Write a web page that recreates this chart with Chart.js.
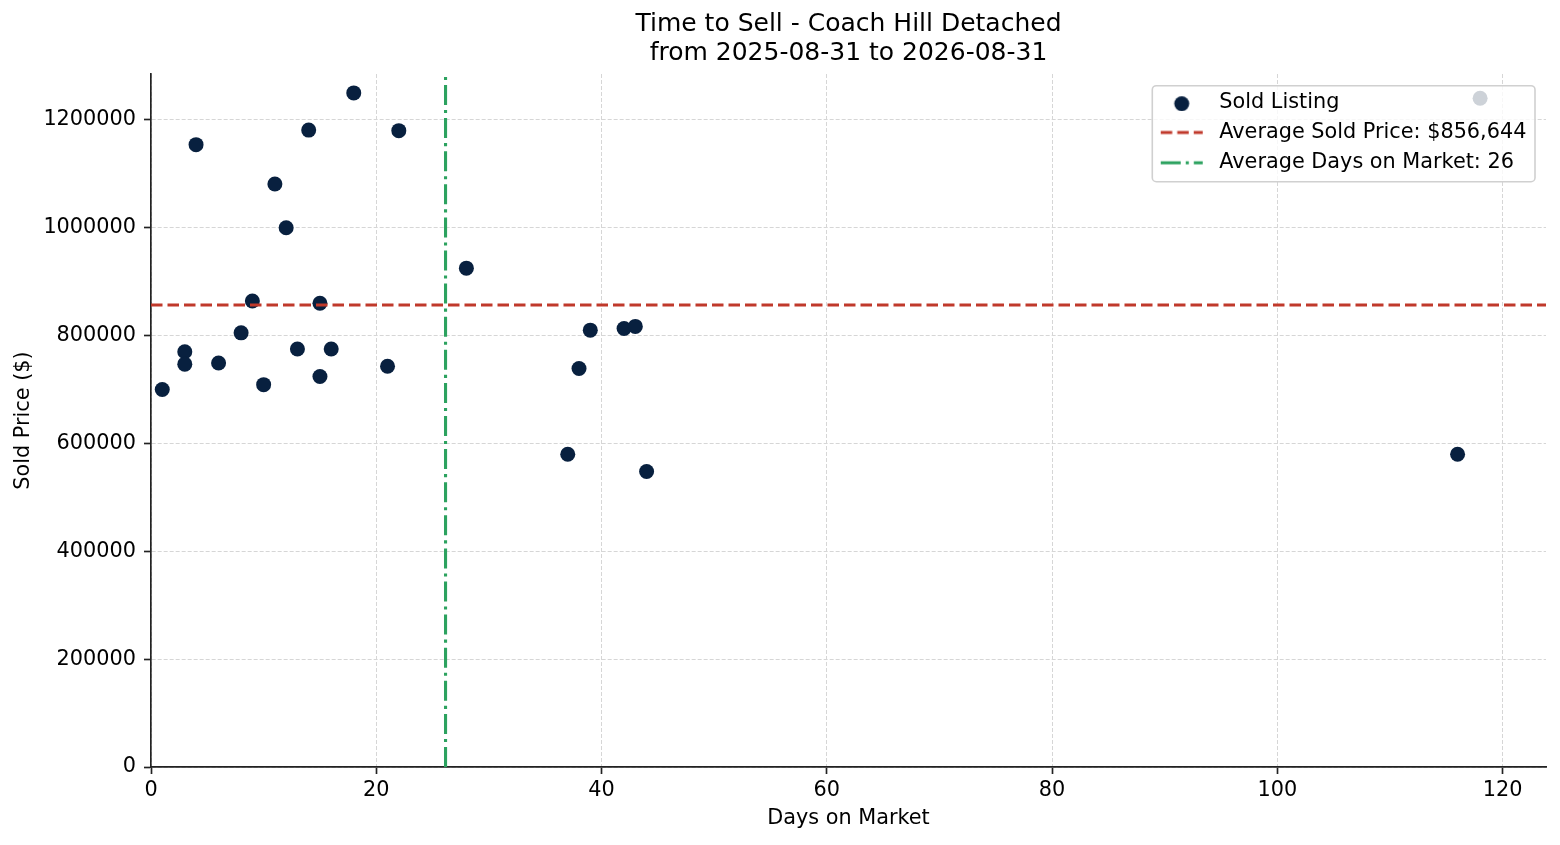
<!DOCTYPE html>
<html>
<head>
<meta charset="utf-8">
<script src="https://cdn.jsdelivr.net/npm/chart.js@4.4.1/dist/chart.umd.min.js"></script>
<style>
  html, body { margin: 0; padding: 0; background: #ffffff; }
  #wrap { width: 1560px; height: 845px; position: relative; }
  canvas { display: block; }
</style>
</head>
<body>
<div id="wrap"><canvas id="c" width="1560" height="845"></canvas></div>
<script>
// ---- data ----
const titleLines = ['Time to Sell - Coach Hill Detached', 'from 2025-08-31 to 2026-08-31'];
const xAxisTitle = 'Days on Market';
const yAxisTitle = 'Sold Price ($)';
const seriesLabels = ['Sold Listing', 'Average Sold Price: $856,644', 'Average Days on Market: 26'];
const daysOnMarket = [1, 3, 3, 4, 6, 8, 9, 10, 11, 12, 13, 14, 15, 15, 16, 18, 21, 22, 28, 37, 38, 39, 42, 43, 44, 116, 118];
const soldPrices = [700000, 770000, 747000, 1154000, 749000, 805000, 864000, 709000, 1081000, 1000000, 775000, 1181000, 860000, 724000, 775000, 1250000, 743000, 1180000, 925000, 580000, 739000, 810000, 813000, 817000, 548000, 580000, 1240000];
const avgPrice = 856644;
const avgDays = 26.15;
const xTicks = [0, 20, 40, 60, 80, 100, 120];
const yTicks = [0, 200000, 400000, 600000, 800000, 1000000, 1200000];
const xMin = 0, xMax = 123.85;
const yMin = 0, yMax = 1285000;

// ---- styles ----
const FONT = 'DejaVu Sans';
const NAVY = '#08203f';
const RED = '#c0392b';
const GREEN = '#2ca25f';
const LW = 3.1;
const RED_DASH = [11.5, 5];
const GREEN_DASH = [20, 5, 3.1, 5];

Chart.defaults.font.family = FONT;
Chart.defaults.font.size = 20.8;
Chart.defaults.color = '#000000';

function makeIcon(kind, color, dash) {
  const c = document.createElement('canvas');
  c.width = 44; c.height = 18;
  const g = c.getContext('2d');
  if (kind === 'circle') {
    g.fillStyle = color;
    g.beginPath(); g.arc(22, 10.5, 7.5, 0, Math.PI * 2); g.fill();
  } else {
    g.strokeStyle = color; g.lineWidth = LW; g.setLineDash(dash);
    g.beginPath(); g.moveTo(1, 9); g.lineTo(43, 9); g.stroke();
  }
  return c;
}
const legendIcons = [makeIcon('circle', NAVY), makeIcon('line', RED, RED_DASH), makeIcon('line', GREEN, GREEN_DASH)];

const scatterPoints = daysOnMarket.map((d, i) => ({ x: d, y: soldPrices[i] }));

const mplLegend = {
  id: 'mplLegend',
  beforeDraw(chart) {
    const lg = chart.legend;
    if (!lg) return;
    if (!lg.$origDraw) { lg.$origDraw = lg.draw; lg.draw = function () {}; }
    const ca = chart.chartArea;
    lg.left = ca.right - 401;
    lg.top = ca.top + 8.3;
    lg.right = lg.left + 410;
    lg.bottom = lg.top + 110;
  },
  afterDatasetsDraw(chart) {
    const ca = chart.chartArea;
    const ctx = chart.ctx;
    const x0 = ca.right - 393.7, x1 = ca.right - 11;
    const y0 = ca.top + 11.7, y1 = ca.top + 107.7;
    ctx.save();
    ctx.beginPath();
    ctx.roundRect(x0, y0, x1 - x0, y1 - y0, 4);
    ctx.fillStyle = 'rgba(255,255,255,0.8)';
    ctx.fill();
    ctx.lineWidth = 1.6;
    ctx.strokeStyle = '#d0d0d0';
    ctx.stroke();
    ctx.restore();
    if (chart.legend && chart.legend.$origDraw) chart.legend.$origDraw.call(chart.legend);
  }
};

new Chart(document.getElementById('c'), {
  type: 'scatter',
  data: {
    datasets: [
      {
        label: seriesLabels[0],
        data: scatterPoints,
        backgroundColor: NAVY,
        borderWidth: 0,
        pointRadius: 7.5,
        pointHoverRadius: 7.5,
        order: 2
      },
      {
        label: seriesLabels[1],
        data: [{ x: xMin, y: avgPrice }, { x: xMax, y: avgPrice }],
        showLine: true,
        borderColor: RED,
        borderWidth: LW,
        borderDash: RED_DASH,
        pointRadius: 0,
        pointHoverRadius: 0,
        order: 1
      },
      {
        label: seriesLabels[2],
        data: [{ x: avgDays, y: yMin }, { x: avgDays, y: yMax }],
        showLine: true,
        borderColor: GREEN,
        borderWidth: LW,
        borderDash: GREEN_DASH,
        pointRadius: 0,
        pointHoverRadius: 0,
        order: 0
      }
    ]
  },
  options: {
    responsive: false,
    animation: false,
    events: [],
    layout: { padding: { left: 0, right: 14, top: 0, bottom: 0 } },
    plugins: {
      tooltip: { enabled: false },
      title: {
        display: true,
        text: titleLines,
        fullSize: false,
        color: '#000000',
        font: { family: FONT, size: 25, weight: 'normal', lineHeight: 1.136 },
        padding: { top: 10.4, bottom: 6.8 }
      },
      legend: {
        display: true,
        position: 'chartArea',
        align: 'start',
        labels: {
          usePointStyle: true,
          pointStyleWidth: 54.4,
          padding: 9.5,
          color: '#000000',
          font: { family: FONT, size: 20.8 },
          generateLabels(chart) {
            return chart.data.datasets.map((ds, i) => ({
              text: ds.label,
              fillStyle: ds.backgroundColor || ds.borderColor,
              strokeStyle: ds.borderColor || ds.backgroundColor,
              lineWidth: 0,
              pointStyle: legendIcons[i],
              hidden: false,
              datasetIndex: i,
              fontColor: '#000000'
            }));
          }
        }
      }
    },
    scales: {
      x: {
        type: 'linear',
        position: 'bottom',
        min: xMin,
        max: xMax,
        afterBuildTicks(scale) { scale.ticks = xTicks.map(v => ({ value: v })); },
        afterFit(scale) { scale.height = 78; },
        ticks: {
          color: '#000000',
          padding: 4,
          maxRotation: 0,
          autoSkip: false,
          font: { family: FONT, size: 20.8 },
          callback: (v) => String(v)
        },
        grid: {
          color: '#d6d6d6',
          lineWidth: 1,
          drawTicks: true,
          tickLength: 7,
          tickColor: '#222222',
          tickWidth: 1.67,
          tickBorderDash: []
        },
        border: { display: true, color: '#222222', width: 1.67, dash: [4, 2] },
        title: {
          display: true,
          text: xAxisTitle,
          color: '#000000',
          font: { family: FONT, size: 20.8, lineHeight: 1.2 },
          padding: { top: 0, bottom: 13.5 }
        }
      },
      y: {
        type: 'linear',
        position: 'left',
        min: yMin,
        max: yMax,
        afterBuildTicks(scale) { scale.ticks = yTicks.map(v => ({ value: v })); },
        afterFit(scale) { scale.width = 151; },
        ticks: {
          color: '#000000',
          padding: 8,
          autoSkip: false,
          font: { family: FONT, size: 20.8 },
          callback: (v) => String(v)
        },
        grid: {
          color: '#d6d6d6',
          lineWidth: 1,
          drawTicks: true,
          tickLength: 7,
          tickColor: '#222222',
          tickWidth: 1.67,
          tickBorderDash: []
        },
        border: { display: true, color: '#222222', width: 1.67, dash: [4, 2] },
        title: {
          display: true,
          text: yAxisTitle,
          color: '#000000',
          font: { family: FONT, size: 20.8, lineHeight: 1.2 },
          padding: { top: 11, bottom: 0 }
        }
      }
    }
  },
  plugins: [mplLegend]
});
</script>
</body>
</html>
